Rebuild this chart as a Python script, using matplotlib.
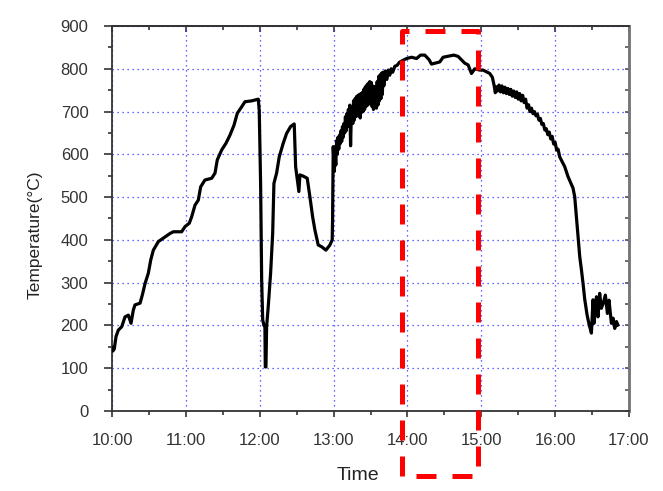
import numpy as np
import matplotlib
matplotlib.use("Agg")
import matplotlib.pyplot as plt
from matplotlib.ticker import MultipleLocator

plt.rcParams['font.family'] = ['Liberation Sans', 'DejaVu Sans']

# time in hours (10.5 = 10:30), temperature in degC
time_h = [10.00, 10.01, 10.03, 10.054, 10.085, 10.131, 10.176, 10.221, 10.257, 10.288,
          10.311, 10.379, 10.41, 10.447, 10.491, 10.524, 10.559, 10.627, 10.717, 10.785,
          10.83, 10.943, 10.988, 11.046, 11.078, 11.123, 11.168, 11.20, 11.258, 11.349,
          11.394, 11.425, 11.484, 11.543, 11.597, 11.651, 11.696, 11.755, 11.80, 11.89,
          11.98, 11.993, 12.012, 12.026, 12.04, 12.057, 12.07, 12.075, 12.084, 12.093,
          12.115, 12.147, 12.175, 12.192, 12.228, 12.264, 12.318, 12.364, 12.418, 12.467,
          12.486, 12.507, 12.53, 12.544, 12.589, 12.643, 12.679, 12.716, 12.747, 12.792,
          12.838, 12.896, 12.95, 12.981, 12.986, 12.995,
          13.01, 13.02, 13.03, 13.04, 13.05, 13.06, 13.07, 13.08, 13.09, 13.10,
          13.11, 13.12, 13.13, 13.14, 13.15, 13.16, 13.17, 13.18, 13.19, 13.20,
          13.21, 13.22, 13.23, 13.24, 13.25, 13.26, 13.27, 13.28, 13.29, 13.30,
          13.31, 13.32, 13.33, 13.34, 13.35, 13.36, 13.37, 13.38, 13.39, 13.40,
          13.41, 13.42, 13.43, 13.44, 13.45, 13.46, 13.47, 13.48, 13.49, 13.50,
          13.51, 13.52, 13.53, 13.54, 13.55, 13.56, 13.57, 13.58, 13.59, 13.60,
          13.61, 13.62, 13.63, 13.64, 13.65, 13.66, 13.67, 13.68, 13.70, 13.72,
          13.74, 13.76, 13.78, 13.80, 13.83, 13.86, 13.89, 13.92,
          13.988, 14.056, 14.123, 14.177, 14.235, 14.294, 14.326, 14.371, 14.438, 14.483,
          14.574, 14.628, 14.686, 14.732, 14.777, 14.822, 14.867, 14.912, 14.98, 15.024,
          15.115, 15.15, 15.175, 15.19, 15.20, 15.22, 15.24, 15.26, 15.28, 15.30,
          15.32, 15.34, 15.36, 15.38, 15.40, 15.42, 15.44, 15.46, 15.48, 15.50,
          15.52, 15.54, 15.56, 15.58, 15.60, 15.62, 15.64, 15.66, 15.68, 15.70,
          15.72, 15.74, 15.76, 15.78, 15.80, 15.82, 15.84, 15.86, 15.88, 15.90,
          15.92, 15.94, 15.96, 15.98, 16.00, 16.02, 16.04, 16.062,
          16.13, 16.174, 16.242, 16.265, 16.288, 16.31, 16.333, 16.356, 16.378, 16.40,
          16.432, 16.459, 16.491, 16.513, 16.527, 16.559, 16.58, 16.603, 16.625, 16.648,
          16.68, 16.708, 16.729, 16.762, 16.784, 16.807, 16.83, 16.85]
temp_c = [148, 140, 145, 174, 189, 197, 220, 224, 205, 236,
          248, 252, 271, 298, 322, 353, 376, 396, 407, 415,
          419, 419, 431, 439, 454, 481, 493, 524, 540, 544,
          556, 587, 610, 626, 645, 668, 696, 711, 723, 725,
          729, 703, 528, 306, 213, 200, 197, 103, 103, 197,
          244, 322, 415, 532, 556, 594, 626, 649, 665, 671,
          571, 544, 513, 552, 549, 544, 501, 454, 423, 388,
          384, 376, 388, 400, 446, 618,
          560, 600, 575, 632, 600, 640, 612, 645, 625, 655,
          630, 665, 640, 672, 650, 688, 655, 695, 668, 705,
          665, 715, 620, 690, 705, 672, 725, 680, 730, 688,
          735, 690, 738, 695, 740, 685, 742, 698, 745, 700,
          752, 705, 758, 712, 762, 715, 766, 718, 770, 720,
          768, 712, 760, 705, 758, 710, 757, 708, 770, 715,
          782, 725, 786, 730, 790, 740, 792, 760, 795, 775,
          797, 785, 800, 792, 806, 808, 815, 818,
          824, 827, 824, 832, 832, 821, 811, 813, 816, 827,
          830, 832, 829, 821, 813, 809, 789, 800, 797, 797,
          789, 780, 760, 744, 758, 748, 762, 746, 760, 744,
          757, 742, 754, 740, 752, 736, 748, 733, 746, 729,
          742, 725, 738, 721, 729, 708, 716, 700, 708, 695,
          700, 690, 694, 680, 684, 670, 672, 657, 660, 646,
          652, 636, 642, 624, 628, 610, 612, 594,
          571, 548, 521, 501, 454, 407, 361, 330, 298, 262,
          225, 203, 182, 260, 205, 267, 220, 275, 240, 250,
          271, 228, 259, 205, 217, 193, 209, 201]

hour_ticks = [10, 11, 12, 13, 14, 15, 16, 17]
hour_labels = ["10:00", "11:00", "12:00", "13:00", "14:00", "15:00", "16:00", "17:00"]

# highlighted window (dashed red box)
box_t = [13.924, 14.957]
box_T = [-152, 889]

fig = plt.figure(figsize=(6.63, 4.91), dpi=100)
ax = fig.add_axes([0.169, 0.163, 0.7797, 0.784])

ax.plot(time_h, temp_c, color="black", lw=2.3, zorder=3)

ax.set_xlim(10, 17)
ax.set_ylim(0, 900)
ax.set_xticks(hour_ticks)
ax.set_xticklabels(hour_labels)
ax.xaxis.set_minor_locator(MultipleLocator(0.5))
ax.yaxis.set_major_locator(MultipleLocator(100))
ax.yaxis.set_minor_locator(MultipleLocator(50))

ax.grid(True, which="major", color="#3333ff", linestyle=(0, (1, 3)), linewidth=0.9)

ax.tick_params(axis="both", which="both", colors="#333333", labelsize=12)
ax.tick_params(axis="y", which="major", direction="out", length=6, width=1.2, pad=11)
ax.tick_params(axis="y", which="minor", direction="out", length=3, width=1.2)
ax.tick_params(axis="x", which="major", direction="out", length=4, width=1.2, pad=12)
ax.tick_params(axis="x", which="minor", direction="out", length=3, width=1.2)

# inward ticks on top and right, Origin style
top = ax.secondary_xaxis("top")
top.set_xticks(hour_ticks)
top.xaxis.set_minor_locator(MultipleLocator(0.5))
top.tick_params(which="both", direction="in", labeltop=False, colors="#333333", width=1.2)
top.tick_params(which="major", length=4)
top.tick_params(which="minor", length=3)
right = ax.secondary_yaxis("right")
right.yaxis.set_major_locator(MultipleLocator(100))
right.yaxis.set_minor_locator(MultipleLocator(50))
right.tick_params(which="both", direction="in", labelright=False, colors="#555555", width=1.2, length=3)

for s in ["left", "bottom", "top"]:
    ax.spines[s].set_color("#333333")
    ax.spines[s].set_linewidth(1.3)
ax.spines["right"].set_color("#777777")
ax.spines["right"].set_linewidth(1.8)
top.spines["top"].set_color("#333333")
top.spines["top"].set_linewidth(1.3)
right.spines["right"].set_color("#777777")
right.spines["right"].set_linewidth(1.8)

ax.set_ylabel("Temperature(°C)", fontsize=12.5, color="#222222")
ax.yaxis.set_label_coords(-0.135, 0.457)
ax.set_xlabel("Time", fontsize=14, color="#222222")
ax.xaxis.set_label_coords(0.476, -0.146)

ax.plot([box_t[0], box_t[0], box_t[1], box_t[1], box_t[0]],
        [box_T[0], box_T[1], box_T[1], box_T[0], box_T[0]],
        color="#ff0000", lw=3.6, linestyle=(0, (4, 3.2)), clip_on=False, zorder=4,
        solid_capstyle="butt", dash_capstyle="butt")

fig.savefig("out.png", dpi=100)
